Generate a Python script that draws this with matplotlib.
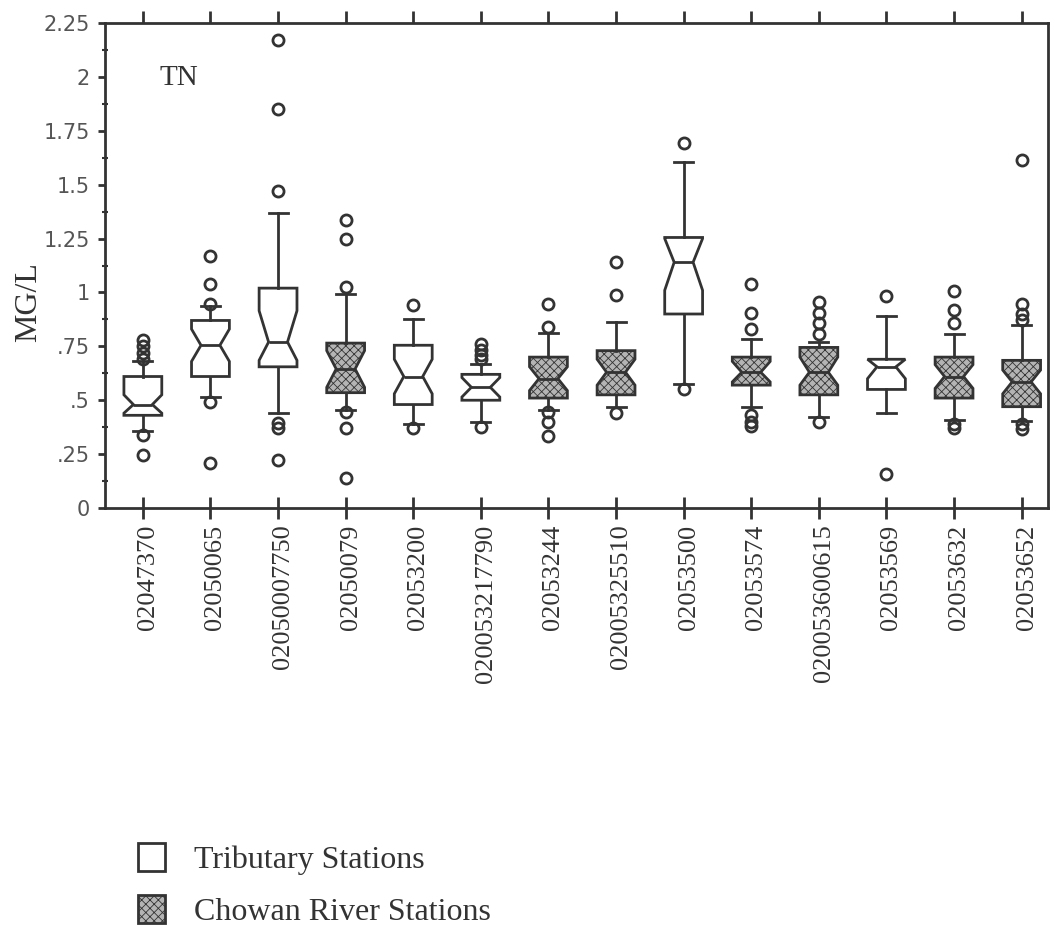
import matplotlib
matplotlib.use("Agg")
import matplotlib.pyplot as plt
import matplotlib.transforms as mtransforms
from matplotlib.patches import Patch
from matplotlib.ticker import MultipleLocator

INK = "#333333"
plt.rcParams.update({
    "font.family": "serif",
    "font.serif": ["Liberation Serif", "DejaVu Serif"],
    "hatch.linewidth": 0.6,
    "hatch.color": INK,
})

stations = ["02047370", "02050065", "02050007750", "02050079", "02053200",
            "020053217790", "02053244", "02005325510", "02053500", "02053574",
            "020053600615", "02053569", "02053632", "02053652"]
# T = tributary station, C = Chowan River station
kind = ["T", "T", "T", "C", "T", "T", "C", "C", "T", "C", "C", "T", "C", "C"]

q1     = [.43, .61, .655, .535, .48, .50, .51, .525, .90, .57, .525, .55, .51, .47]
median = [.48, .755, .77, .645, .61, .56, .60, .63, 1.14, .63, .63, .655, .61, .585]
q3     = [.61, .87, 1.02, .765, .755, .62, .70, .73, 1.255, .70, .745, .69, .70, .685]
ci_lo  = [.44, .68, .685, .56, .53, .515, .545, .57, 1.01, .585, .57, .60, .555, .53]
ci_hi  = [.525, .83, .915, .73, .69, .605, .655, .69, 1.25, .68, .70, .69, .665, .64]
whis_lo = [.355, .515, .44, .455, .39, .40, .455, .47, .575, .47, .42, .44, .41, .405]
whis_hi = [.68, .935, 1.37, .995, .875, .67, .81, .865, 1.605, .785, .77, .89, .805, .85]
outliers = [
    [.78, .75, .72, .69, .34, .245],
    [1.17, 1.04, .945, .49, .207],
    [2.17, 1.85, 1.47, .395, .37, .225],
    [1.335, 1.25, 1.025, .445, .37, .14],
    [.94, .37],
    [.76, .735, .71, .69, .375],
    [.945, .84, .445, .40, .335],
    [1.14, .99, .44],
    [1.695, .55],
    [1.04, .905, .83, .43, .40, .38],
    [.955, .905, .86, .805, .40],
    [.985, .16],
    [1.005, .92, .86, .39, .37],
    [1.615, .945, .90, .87, .39, .365],
]

stats = []
for i in range(len(stations)):
    stats.append({
        "med": median[i], "q1": q1[i], "q3": q3[i],
        "whislo": whis_lo[i], "whishi": whis_hi[i],
        "cilo": ci_lo[i], "cihi": ci_hi[i],
        "fliers": outliers[i], "label": stations[i],
    })

fig = plt.figure(figsize=(10.54, 9.40), dpi=100)
ax = fig.add_axes([105 / 1054, 1 - 508 / 940, 943 / 1054, 485 / 940])

positions = list(range(1, len(stations) + 1))
bp = ax.bxp(
    stats, positions=positions, widths=0.56, shownotches=True,
    patch_artist=True, showfliers=True,
    boxprops=dict(edgecolor=INK, linewidth=2.0),
    medianprops=dict(color=INK, linewidth=2.0),
    whiskerprops=dict(color=INK, linewidth=2.0),
    capprops=dict(color=INK, linewidth=2.0),
    flierprops=dict(marker="o", markerfacecolor="none", markeredgecolor=INK,
                    markersize=8, markeredgewidth=2.0),
)
for patch, k in zip(bp["boxes"], kind):
    if k == "C":
        patch.set_facecolor("#b4b4b4")
        patch.set_hatch("xxxx")
    else:
        patch.set_facecolor("white")

ax.set_xlim(0.44, 14.39)
ax.set_ylim(0, 2.25)

for s in ax.spines.values():
    s.set_linewidth(2.0)
    s.set_color(INK)

ax.yaxis.set_major_locator(MultipleLocator(0.25))
ax.yaxis.set_minor_locator(MultipleLocator(0.125))
ylabels = ["0", ".25", ".5", ".75", "1", "1.25", "1.5", "1.75", "2", "2.25"]
ax.set_yticks([i * 0.25 for i in range(10)])
ax.set_yticklabels(ylabels, family="DejaVu Sans", fontsize=15, color="#555555")
ax.tick_params(axis="y", which="major", direction="out", length=5, width=2,
               color=INK, pad=6)
ax.tick_params(axis="y", which="minor", direction="inout", length=4, width=1.5,
               color=INK)

# bottom ticks cross the axis, top ticks point outward only
ax.set_xticks(positions)
ax.set_xticklabels(stations, rotation=90, fontsize=19, color=INK)
ax.tick_params(axis="x", which="major", direction="inout", length=16, width=2,
               color=INK, pad=4)
ax.tick_params(axis="x", which="minor", bottom=False, top=False)
# the station labels sit a hair right of their ticks in the original
shift = mtransforms.ScaledTranslation(5 / 100, 0, fig.dpi_scale_trans)
for lab in ax.get_xticklabels():
    lab.set_transform(lab.get_transform() + shift)
top = ax.secondary_xaxis("top")
top.set_xticks(positions)
top.set_xticklabels([])
top.tick_params(direction="out", length=9, width=2, color=INK)
top.spines["top"].set_visible(False)

ax.set_ylabel("MG/L", fontsize=23, color=INK)
ax.yaxis.set_label_coords(-0.066, 0.425)

ax.text(0.058, 0.887, "TN", transform=ax.transAxes, fontsize=21,
        color=INK, va="center", ha="left")

handles = [
    Patch(facecolor="white", edgecolor=INK, linewidth=2.0),
    Patch(facecolor="#b4b4b4", edgecolor=INK, linewidth=2.0, hatch="xxxx"),
]
fig.legend(handles, ["Tributary Stations", "Chowan River Stations"],
           loc="upper left", bbox_to_anchor=(109 / 1054, 1 - 814 / 940),
           frameon=False, fontsize=23, handlelength=0.85, handleheight=1.0,
           handletextpad=0.9, labelspacing=0.62, labelcolor=INK)

fig.savefig("out.png", dpi=100)
